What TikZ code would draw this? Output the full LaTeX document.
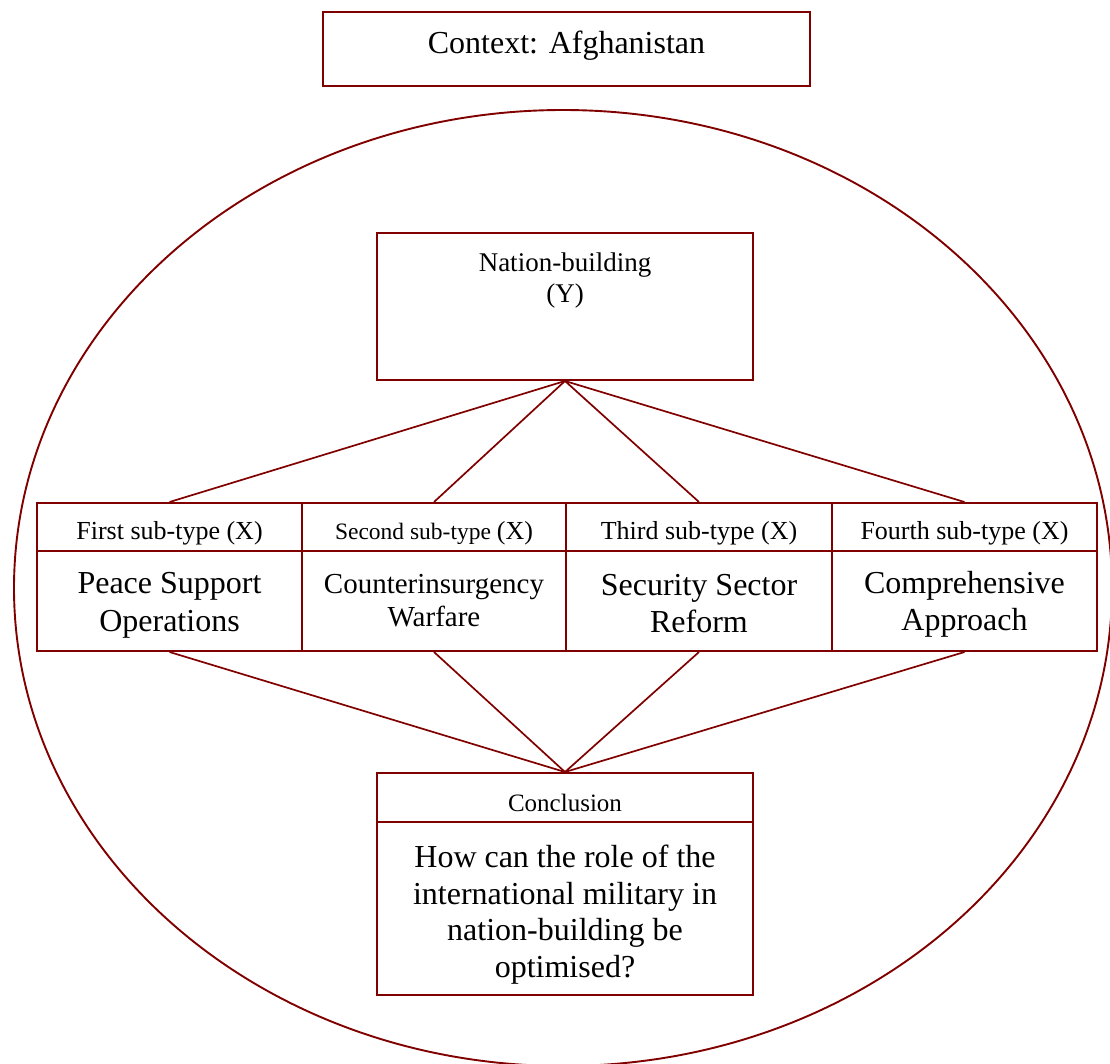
\documentclass[tikz,border=0pt]{standalone}
\usepackage{fontspec}
\setmainfont{Liberation Serif}
\definecolor{frame}{RGB}{128,0,0}
\newcommand{\fs}[2]{\fontsize{#1}{#2}\selectfont}
\tikzset{
  box/.style={draw=frame, line width=2pt, fill=white, inner sep=0pt, rectangle},
  link/.style={draw=frame, line width=1.7pt},
  label/.style={inner sep=0pt, align=center, text=black},
}
\begin{document}
\begin{tikzpicture}[x=1pt,y=-1pt]
  \useasboundingbox (0,0) rectangle (1110,1063);
  \clip (0,0) rectangle (1110,1063);

  % outer ellipse
  \draw[frame, line width=1.9pt] (563,588) ellipse [x radius=549, y radius=478];

  % context box
  \node[box, minimum width=487pt, minimum height=74pt] (ctx) at (566.5,49) {};
  \node[label, font=\fs{32}{36}] (ctxt) at (566.5,46) {Context: Afghanistan};

  % nation-building box
  \node[box, minimum width=376pt, minimum height=147pt] (nb) at (565,306.5) {};
  \node[label, font=\fs{27}{31}] (nbt) at (565,281) {Nation-building\\(Y)};

  % sub-type table: header cells
  \node[box, minimum width=265pt, minimum height=48pt] (h1) at (169.5,527) {};
  \node[box, minimum width=264pt, minimum height=48pt] (h2) at (434,527) {};
  \node[box, minimum width=266pt, minimum height=48pt] (h3) at (699,527) {};
  \node[box, minimum width=265pt, minimum height=48pt] (h4) at (964.5,527) {};
  % body cells
  \node[box, minimum width=265pt, minimum height=100pt] (b1) at (169.5,601) {};
  \node[box, minimum width=264pt, minimum height=100pt] (b2) at (434,601) {};
  \node[box, minimum width=266pt, minimum height=100pt] (b3) at (699,601) {};
  \node[box, minimum width=265pt, minimum height=100pt] (b4) at (964.5,601) {};

  \node[label, font=\fs{26}{30}] (h1t) at (169.5,533) {First sub-type (X)};
  \node[label, font=\fs{23.5}{30}] (h2t) at (434,533) {Second sub-type {\fs{26}{30}(X)}};
  \node[label, font=\fs{26}{30}] (h3t) at (699,533) {Third sub-type (X)};
  \node[label, font=\fs{26}{30}] (h4t) at (964.5,533) {Fourth sub-type (X)};

  \node[label, font=\fs{32}{38}] (b1t) at (169.5,605) {Peace Support\\Operations};
  \node[label, font=\fs{29}{33}] (b2t) at (434,601) {Counterinsurgency\\Warfare};
  \node[label, font=\fs{32}{37}] (b3t) at (699,604) {Security Sector\\Reform};
  \node[label, font=\fs{32}{37}] (b4t) at (964.5,604) {Comprehensive\\Approach};

  % conclusion box
  \node[box, minimum width=376pt, minimum height=49pt] (ch) at (565,797.5) {};
  \node[box, minimum width=376pt, minimum height=173pt] (cb) at (565,908.5) {};
  \node[label, font=\fs{25}{30}] (cht) at (565,803) {Conclusion};
  \node[label, font=\fs{32}{36.5}] (cbt) at (565,914.5)
    {How can the role of the\\international military in\\nation-building be\\optimised?};

  % connectors
  \foreach \c in {h1,h2,h3,h4} \draw[link] (nb.south) -- (\c.north);
  \foreach \c in {b1,b2,b3,b4} \draw[link] (\c.south) -- (ch.north);
\end{tikzpicture}
\end{document}
